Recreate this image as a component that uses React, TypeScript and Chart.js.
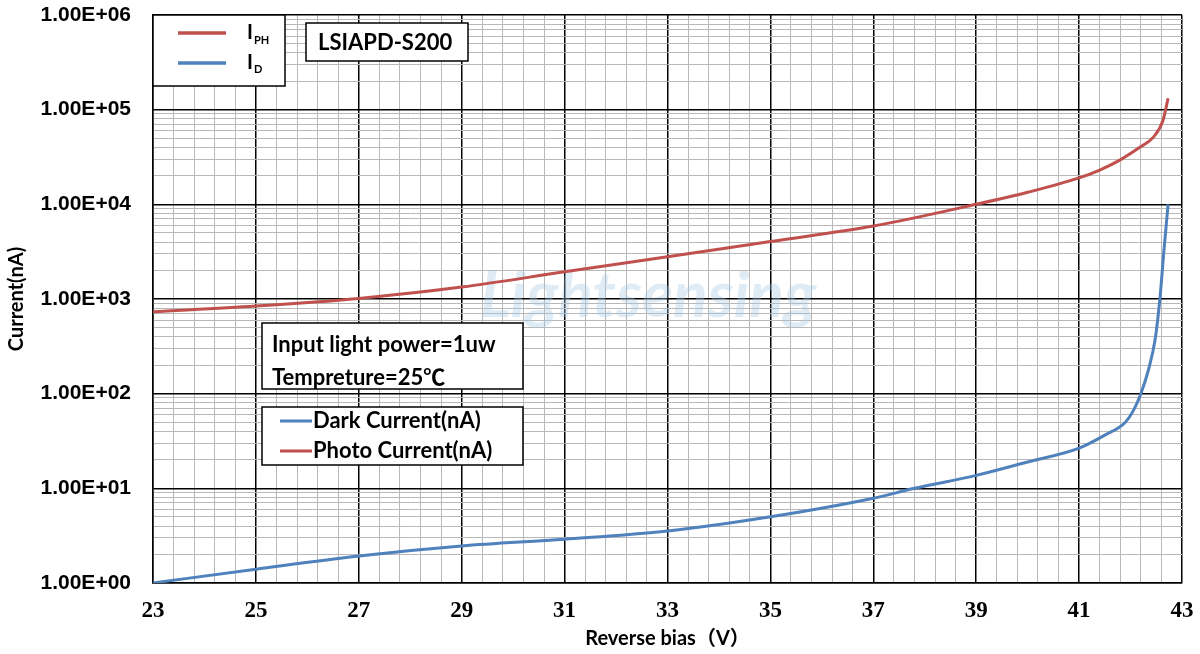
import React, { useEffect, useRef } from "react";
import { Chart, registerables } from "chart.js";

Chart.register(...registerables);

// ---- data ----
const xTickLabels = [23, 25, 27, 29, 31, 33, 35, 37, 39, 41, 43];
const yDecades = [1, 10, 100, 1000, 10000, 100000, 1000000];
const yTickLabels = ["1.00E+00", "1.00E+01", "1.00E+02", "1.00E+03", "1.00E+04", "1.00E+05", "1.00E+06"];

const photoBias = [23, 25, 27, 29, 31, 33, 35, 37, 39, 40, 41, 41.4, 41.8, 42.18, 42.44, 42.63, 42.73];
const photoCurrent = [733, 842, 1015, 1336, 1937, 2790, 4050, 5890, 10000, 13400, 19000, 23000, 29500, 40000, 51000, 77000, 132000];

const darkBias = [23, 25, 27, 29, 31, 33, 35, 37, 37.8, 39, 40, 41, 41.5, 41.9, 42.06, 42.2, 42.35, 42.48, 42.57, 42.65, 42.73];
const darkCurrent = [1.0, 1.4, 1.93, 2.46, 2.9, 3.54, 5.0, 7.85, 10, 13.7, 19, 26.6, 36.5, 50, 67, 100, 180, 380, 1000, 3300, 10000];

const RED = "#c0504d";
const BLUE = "#4f81bd";
const BOLD_SANS = "Lato, 'Noto Sans CJK SC', 'Liberation Sans', sans-serif";

const isMajorX = (v: number) => {
  const k = (v - 23) / 2;
  return Math.abs(k - Math.round(k)) < 1e-6;
};
const isMajorY = (v: number) => yDecades.some((d) => Math.abs(v / d - 1) < 1e-9);

const annotations = {
  id: "annotations",
  beforeDatasetsDraw(chart: any) {
    const ctx = chart.ctx;
    ctx.save();
    ctx.font = `italic bold 64px ${BOLD_SANS}`;
    ctx.fillStyle = "rgba(170, 202, 228, 0.36)";
    ctx.textAlign = "center";
    ctx.textBaseline = "middle";
    ctx.fillText("Lightsensing", 648, 296);
    ctx.restore();
  },
  afterDatasetsDraw(chart: any) {
    const ctx = chart.ctx;
    ctx.save();
    const box = (x: number, y: number, w: number, h: number) => {
      ctx.fillStyle = "#fff";
      ctx.fillRect(x, y, w, h);
      ctx.strokeStyle = "#000";
      ctx.lineWidth = 1.5;
      ctx.strokeRect(x, y, w, h);
      ctx.fillStyle = "#000";
    };
    const seg = (x1: number, x2: number, y: number, c: string, lw: number) => {
      ctx.strokeStyle = c;
      ctx.lineWidth = lw;
      ctx.beginPath();
      ctx.moveTo(x1, y);
      ctx.lineTo(x2, y);
      ctx.stroke();
    };
    ctx.textBaseline = "middle";
    ctx.textAlign = "left";

    // top-left legend
    box(153, 15, 132, 71);
    seg(178, 226, 33, RED, 3.5);
    seg(178, 226, 63, BLUE, 3.5);
    ctx.font = `bold 20px ${BOLD_SANS}`;
    ctx.fillText("I", 247, 33);
    ctx.fillText("I", 247, 63);
    ctx.font = `bold 11px ${BOLD_SANS}`;
    ctx.fillText("PH", 254, 40);
    ctx.fillText("D", 254, 69);

    // model box
    box(306, 23, 162, 38);
    ctx.font = `bold 22px ${BOLD_SANS}`;
    ctx.fillText("LSIAPD-S200", 318, 43);

    // condition box
    box(262, 323, 261, 66);
    ctx.font = `bold 22px ${BOLD_SANS}`;
    ctx.fillText("Input light power=1uw", 272, 345);
    ctx.fillText("Tempreture=25\u2103", 272, 378);

    // series legend
    box(262, 407, 261, 58);
    seg(280, 312, 421, BLUE, 3);
    seg(280, 312, 451, RED, 3);
    ctx.font = `bold 22px ${BOLD_SANS}`;
    ctx.fillText("Dark Current(nA)", 313, 421);
    ctx.fillText("Photo Current(nA)", 313, 451);
    ctx.restore();
  },
};

export default function App() {
  const ref = useRef<HTMLCanvasElement | null>(null);
  useEffect(() => {
    document.body.style.margin = "0";
    if (!ref.current) return;
    const xGrid: number[] = [];
    for (let i = 0; i <= 50; i++) xGrid.push(23 + i * 0.4);
    const yGrid: number[] = [];
    yDecades.forEach((d, idx) => {
      if (idx === yDecades.length - 1) {
        yGrid.push(d);
      } else {
        for (let m = 1; m <= 9; m++) yGrid.push(d * m);
      }
    });
    const noPad = (s: any) => {
      s.paddingTop = 0;
      s.paddingBottom = 0;
      s.paddingLeft = 0;
      s.paddingRight = 0;
    };

    const chart = new Chart(ref.current, {
      type: "line",
      data: {
        datasets: [
          {
            label: "Photo Current(nA)",
            data: photoBias.map((x, i) => ({ x, y: photoCurrent[i] })),
            borderColor: RED,
            borderWidth: 3,
            pointRadius: 0,
            cubicInterpolationMode: "monotone",
            fill: false,
          },
          {
            label: "Dark Current(nA)",
            data: darkBias.map((x, i) => ({ x, y: darkCurrent[i] })),
            borderColor: BLUE,
            borderWidth: 3,
            pointRadius: 0,
            cubicInterpolationMode: "monotone",
            fill: false,
          },
        ],
      },
      options: {
        responsive: false,
        animation: false,
        layout: { padding: { top: 15, right: 18, left: 0, bottom: 0 } },
        plugins: { legend: { display: false }, tooltip: { enabled: false } },
        scales: {
          x: {
            type: "linear",
            min: 23,
            max: 43,
            afterBuildTicks: (s: any) => {
              s.ticks = xGrid.map((v) => ({ value: v }));
            },
            afterFit: (s: any) => {
              s.height = 71;
              noPad(s);
            },
            ticks: {
              autoSkip: false,
              maxRotation: 0,
              padding: 14,
              color: "#000",
              font: { family: "'Liberation Serif', serif", weight: "bold", size: 23 },
              callback: (v: any) => {
                const m = xTickLabels.find((l) => Math.abs(l - Number(v)) < 1e-6);
                return m !== undefined ? String(m) : "";
              },
            },
            grid: {
              drawTicks: false,
              color: (c: any) => (c.tick && isMajorX(c.tick.value) ? "#000" : "#b8b8b8"),
              lineWidth: (c: any) => (c.tick && isMajorX(c.tick.value) ? 1.5 : 1),
            },
            border: { display: true, color: "#000", width: 1.5 },
            title: {
              display: true,
              text: "Reverse bias\uff08V\uff09",
              color: "#000",
              font: { family: BOLD_SANS, weight: "bold", size: 20 },
              padding: { top: 0, bottom: 3 },
            },
          },
          y: {
            type: "logarithmic",
            min: 1,
            max: 1000000,
            afterBuildTicks: (s: any) => {
              s.ticks = yGrid.map((v) => ({ value: v }));
            },
            afterFit: (s: any) => {
              s.width = 153;
              noPad(s);
            },
            ticks: {
              autoSkip: false,
              padding: 22,
              color: "#000",
              font: { family: "'Liberation Sans', Arial, sans-serif", weight: "bold", size: 21 },
              callback: (v: any) => {
                const idx = yDecades.findIndex((d) => Math.abs(Number(v) / d - 1) < 1e-9);
                return idx >= 0 ? yTickLabels[idx] : "";
              },
            },
            grid: {
              drawTicks: false,
              color: (c: any) => (c.tick && isMajorY(c.tick.value) ? "#000" : "#b8b8b8"),
              lineWidth: (c: any) => (c.tick && isMajorY(c.tick.value) ? 1.5 : 1),
            },
            border: { display: true, color: "#000", width: 1.5 },
            title: {
              display: true,
              text: "Current(nA)",
              color: "#000",
              font: { family: BOLD_SANS, weight: "bold", size: 20 },
              padding: { top: 5, bottom: 0 },
            },
          },
        },
      },
      plugins: [annotations],
    } as any);
    return () => chart.destroy();
  }, []);

  return (
    <div style={{ position: "absolute", left: 0, top: 0, width: 1200, height: 654, background: "#fff" }}>
      <canvas ref={ref} width={1200} height={654} style={{ display: "block", width: 1200, height: 654 }} />
    </div>
  );
}
